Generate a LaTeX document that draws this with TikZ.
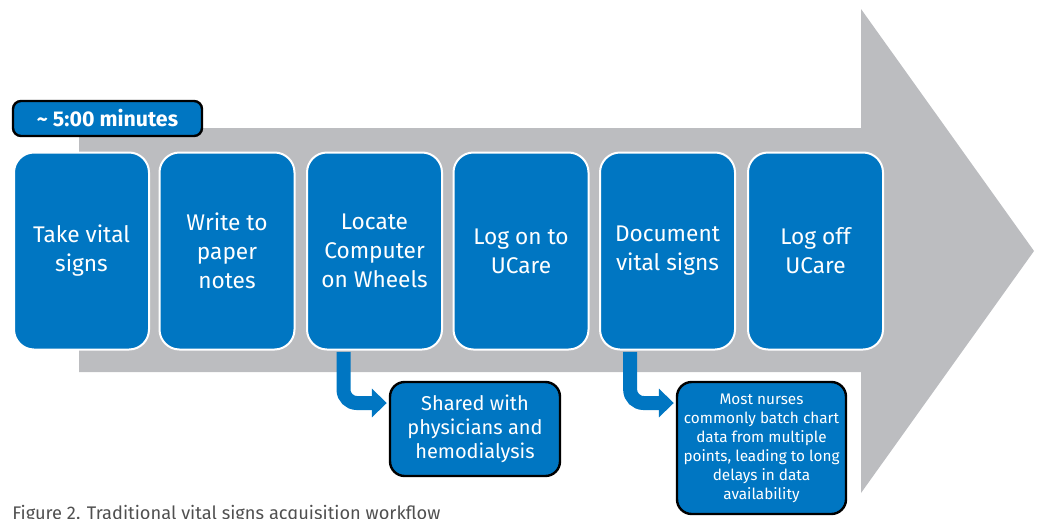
\documentclass[tikz,border=0pt]{standalone}
\usepackage{fontspec}
\setmainfont{Fira Sans}
\usetikzlibrary{arrows.meta}
\definecolor{stepblue}{RGB}{0,118,194}
\definecolor{arrowgray}{RGB}{188,189,192}
\definecolor{captiongray}{RGB}{80,80,80}
\begin{document}
\begin{tikzpicture}[x=0.75pt,y=-0.75pt,
    stepbox/.style={draw=white,line width=1.5pt,fill=stepblue,rounded corners=15pt,
      minimum width=101.25pt,minimum height=147.75pt,inner sep=2pt,text=white,
      align=center,font=\fontsize{17}{21.75}\selectfont},
    notebox/.style={draw=black,line width=1.8pt,fill=stepblue,rounded corners=11pt,
      inner sep=2pt,text=white,align=center},
    elbow/.style={draw=stepblue,line width=10.5pt,rounded corners=10pt,
      -{Triangle[length=11.25pt,width=21pt]},shorten >=1.5pt}]
  \useasboundingbox (0,0) rectangle (1042,518);
  % big arrow behind the steps
  \fill[arrowgray] (79,128) -- (861,128) -- (861,9) -- (1034,251)
    -- (861,493) -- (861,372) -- (79,372) -- cycle;
  % duration
  \node[notebox,rounded corners=6pt,minimum width=141.75pt,minimum height=26.25pt,
    font=\fontsize{16}{19}\selectfont\bfseries] (time) at (107.5,118.5)
    {\textasciitilde\ 5:00 minutes};
  % steps
  \node[stepbox] (s1) at (81.5,251) {Take vital\\signs};
  \node[stepbox] (s2) at (227,251) {Write to\\paper\\notes};
  \node[stepbox] (s3) at (374.5,251) {Locate\\Computer\\on Wheels};
  \node[stepbox] (s4) at (521,251) {Log on to\\UCare};
  \node[stepbox] (s5) at (667.5,251) {Document\\vital signs};
  \node[stepbox] (s6) at (815.5,251) {Log off\\UCare};
  % notes
  \node[notebox,minimum width=127.5pt,minimum height=70.5pt,
    font=\fontsize{15}{18}\selectfont] (n1) at (475,429)
    {Shared with\\physicians and\\hemodialysis};
  \node[notebox,minimum width=126.75pt,minimum height=99pt,
    font=\fontsize{11.5}{14.25}\selectfont] (n2) at (761.5,448)
    {Most nurses\\commonly batch chart\\data from multiple\\points, leading to long\\delays in data\\availability};
  \draw[elbow] ([xshift=-23.25pt,yshift=-1pt]s3.south) |- ([yshift=19.5pt]n1.west);
  \draw[elbow] ([xshift=-28pt,yshift=-1pt]s5.south) |- ([yshift=33.75pt]n2.west);
  % caption
  \node[anchor=base west,inner sep=0pt,text=captiongray,
    font=\fontsize{13.7}{16}\selectfont] (cap) at (12,519)
    {Figure 2. Traditional vital signs acquisition workflow};
\end{tikzpicture}
\end{document}
